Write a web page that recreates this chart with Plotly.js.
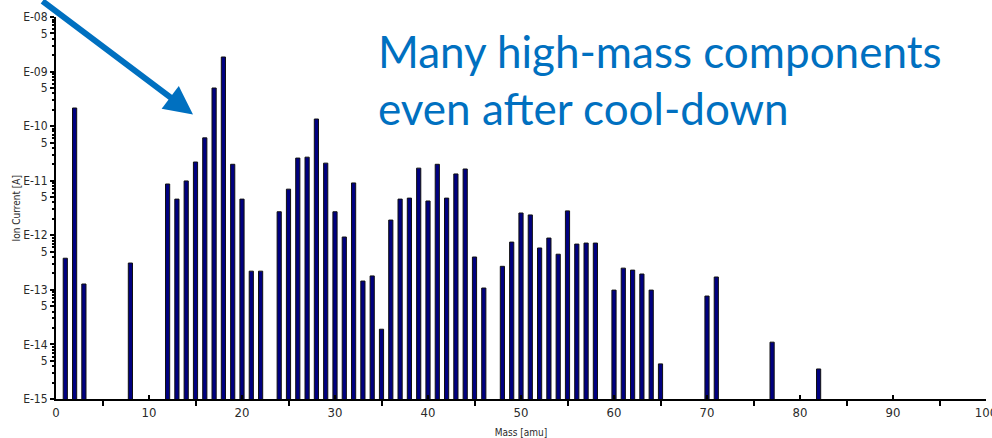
<!DOCTYPE html>
<html>
<head>
<meta charset="utf-8">
<script src="https://cdn.plot.ly/plotly-3.0.1.min.js"></script>
<style>
  html, body { margin: 0; padding: 0; background: #ffffff; }
  #chart { width: 992px; height: 438px; }
</style>
</head>
<body>
<div id="chart"></div>
<script>
// Residual gas spectrum: ion current per mass number (log scale)
const masses = [1, 2, 3, 8,
  12, 13, 14, 15, 16, 17, 18, 19, 20, 21, 22,
  24, 25, 26, 27, 28, 29, 30, 31, 32, 33, 34, 35, 36, 37, 38, 39, 40, 41, 42, 43, 44, 45, 46,
  48, 49, 50, 51, 52, 53, 54, 55, 56, 57, 58,
  60, 61, 62, 63, 64, 65,
  70, 71, 77, 82];

const ionCurrent = [3.8e-13, 2.15e-10, 1.28e-13, 3.1e-13,
  8.7e-12, 4.6e-12, 9.9e-12, 2.2e-11, 6.1e-11, 5.0e-10, 1.85e-9, 2.0e-11, 4.6e-12, 2.2e-13, 2.2e-13,
  2.7e-12, 7.0e-12, 2.6e-11, 2.7e-11, 1.35e-10, 2.1e-11, 2.7e-12, 9.3e-13, 9.1e-12, 1.45e-13, 1.8e-13,
  1.9e-14, 1.9e-12, 4.6e-12, 4.8e-12, 1.7e-11, 4.25e-12, 2.0e-11, 4.8e-12, 1.33e-11, 1.64e-11, 4.0e-13, 1.08e-13,
  2.7e-13, 7.5e-13, 2.56e-12, 2.36e-12, 5.85e-13, 8.9e-13, 4.5e-13, 2.8e-12, 6.9e-13, 7.2e-13, 7.2e-13,
  9.9e-14, 2.5e-13, 2.3e-13, 1.95e-13, 9.9e-14, 4.4e-15,
  7.7e-14, 1.72e-13, 1.1e-14, 3.55e-15];

// Decade exponents shown on the y axis
const decades = [-15, -14, -13, -12, -11, -10, -9, -8];
const xTicks = [0, 10, 20, 30, 40, 50, 60, 70, 80, 90, 100];

const yTitle = 'Ion Current [A]';
const xTitle = 'Mass [amu]';
const annotationText = 'Many high-mass components<br>even after cool-down';

// Build y tick positions: each decade labelled "E-xx", each 5x labelled "5"
const yTickVals = [];
const yTickText = [];
const yMinorVals = [];
decades.forEach(function (e, i) {
  yTickVals.push(Math.pow(10, e));
  yTickText.push('E-' + String(-e).padStart(2, '0'));
  if (i < decades.length - 1) {
    yTickVals.push(5 * Math.pow(10, e));
    yTickText.push('5');
    [2, 3, 4, 6, 7, 8, 9].forEach(function (m) { yMinorVals.push(m * Math.pow(10, e)); });
  }
});

const narrow = 'Liberation Sans Narrow, DejaVu Sans Condensed, Liberation Sans, Arial';
const xTickFont = { family: narrow, size: 13, color: '#2a2a2a' };
const yTickFont = { family: narrow, size: 12, color: '#2a2a2a' };
const titleFont = { family: narrow, size: 10, color: '#2a2a2a' };

const trace = {
  type: 'bar',
  x: masses,
  y: ionCurrent,
  width: 0.45,
  marker: { color: '#000080', line: { color: '#101010', width: 1 } },
  hoverinfo: 'x+y'
};

const layout = {
  width: 992,
  height: 438,
  margin: { l: 56, r: 6, t: 17, b: 39 },
  paper_bgcolor: '#ffffff',
  plot_bgcolor: '#ffffff',
  showlegend: false,
  bargap: 0,
  xaxis: {
    range: [0, 100],
    tickmode: 'array',
    tickvals: xTicks,
    ticktext: xTicks.map(String),
    ticklabeloverflow: 'allow',
    ticks: 'inside',
    ticklen: 4,
    tickwidth: 2,
    tickcolor: '#000',
    minor: { tickmode: 'linear', tick0: 5, dtick: 10, ticks: 'outside', ticklen: 5, tickwidth: 2, tickcolor: '#000', showgrid: false },
    showline: true,
    linecolor: '#000',
    linewidth: 2,
    showgrid: false,
    zeroline: false,
    tickfont: xTickFont,
    title: { text: xTitle, font: titleFont, standoff: 10 }
  },
  yaxis: {
    type: 'log',
    range: [-15, -8],
    tickmode: 'array',
    tickvals: yTickVals,
    ticktext: yTickText,
    ticks: 'outside',
    ticklen: 4,
    tickwidth: 2,
    tickcolor: '#000',
    minor: { tickmode: 'array', tickvals: yMinorVals, ticks: 'outside', ticklen: 2, tickwidth: 2, tickcolor: '#000', showgrid: false },
    showline: true,
    linecolor: '#000',
    linewidth: 2,
    showgrid: false,
    zeroline: false,
    tickfont: yTickFont,
    automargin: false
  },
  annotations: [
    {
      // vertical y-axis title sitting close to the tick labels
      xref: 'paper', yref: 'paper',
      x: -0.0425, y: 0.5,
      xanchor: 'center', yanchor: 'middle',
      textangle: -90,
      text: yTitle,
      showarrow: false,
      font: titleFont
    },
    {
      xref: 'paper', yref: 'paper',
      x: 0.344, y: 0.985,
      xanchor: 'left', yanchor: 'top',
      align: 'left',
      text: annotationText,
      showarrow: false,
      font: { family: 'Lato, Open Sans, Liberation Sans', size: 44, color: '#0070C0' }
    },
    {
      xref: 'paper', yref: 'paper',
      x: 0.1473, y: 0.745,
      ax: -152, ay: -134,
      text: '',
      showarrow: true,
      arrowhead: 2,
      arrowsize: 0.95,
      arrowwidth: 6,
      arrowcolor: '#0070C0'
    }
  ]
};

Plotly.newPlot('chart', [trace], layout, { staticPlot: true, displayModeBar: false });
</script>
</body>
</html>
